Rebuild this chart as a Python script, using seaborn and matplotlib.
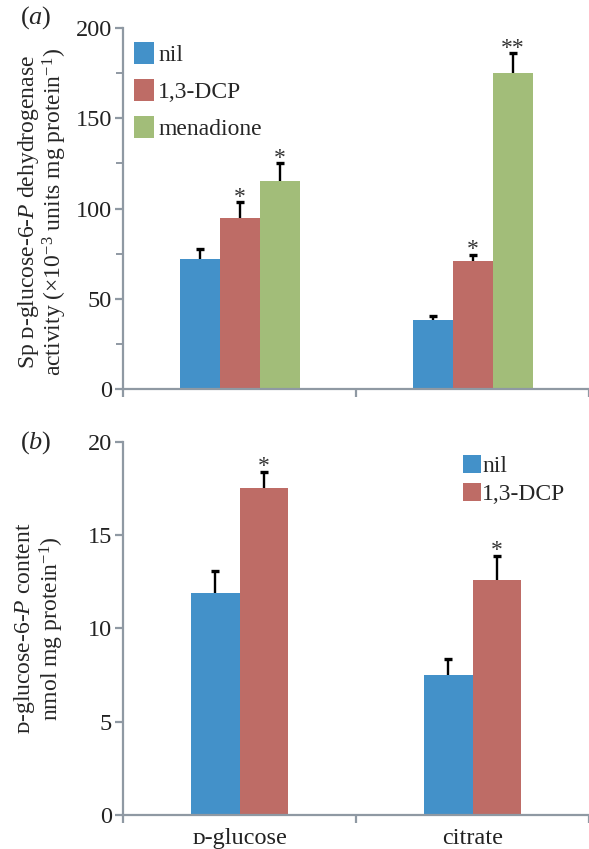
import numpy as np
import pandas as pd
import seaborn as sns
import matplotlib

matplotlib.use("Agg")
from matplotlib import pyplot as plt
from matplotlib.ticker import MultipleLocator

# panel (a): dehydrogenase activity
cats = ["D-glucose", "citrate"]
cat_labels = ["\u1d05-glucose", "citrate"]
treat_a = ["nil", "1,3-DCP", "menadione"]
act_nil = [72, 38]
act_dcp = [95, 71]
act_men = [115, 175]
act_nil_err = [5.5, 2.5]
act_dcp_err = [8.5, 3.5]
act_men_err = [10, 11]
stars_a = [["", ""], ["*", "*"], ["*", "**"]]

# panel (b): glucose-6-P content
treat_b = ["nil", "1,3-DCP"]
g6p_nil = [11.9, 7.5]
g6p_dcp = [17.5, 12.6]
g6p_nil_err = [1.2, 0.85]
g6p_dcp_err = [0.9, 1.3]
stars_b = [["", ""], ["*", "*"]]

colors = ["#4391c9", "#be6c66", "#a2bd79"]
grey = "#8f99a3"

sns.set_theme(style="ticks")
plt.rcParams["font.family"] = ["Liberation Serif", "DejaVu Serif"]
plt.rcParams["mathtext.fontset"] = "custom"
plt.rcParams["mathtext.rm"] = "Liberation Serif"
plt.rcParams["mathtext.it"] = "Liberation Serif:italic"


def panel(ax, treats, vals, errs, stars, width, ymax, major, minor, star_off):
    df = pd.DataFrame({
        "cat": np.repeat([cats], len(treats), axis=0).ravel(),
        "treat": np.repeat(treats, len(cats)),
        "val": np.ravel(vals),
    })
    sns.barplot(data=df, x="cat", y="val", hue="treat", order=cats, hue_order=treats,
                palette=colors[:len(treats)], width=width, errorbar=None,
                saturation=1, linewidth=0, ax=ax)
    for cont, v, e, s in zip(ax.containers, vals, errs, stars):
        xs = [p.get_x() + p.get_width() / 2 for p in cont.patches]
        # symmetric bars drawn behind the bars so only the upper half shows
        ax.errorbar(xs, v, yerr=e, fmt="none", ecolor="black", elinewidth=1.7,
                    capsize=3.2, capthick=2.4, zorder=0.5)
        for x, top, st in zip(xs, np.add(v, e), s):
            ax.text(x, top + star_off, st, ha="center", va="bottom", fontsize=17,
                    color="#333333")
    ax.set_xlim(-0.5, 1.5)
    ax.set_ylim(0, ymax)
    ax.yaxis.set_major_locator(MultipleLocator(major))
    if minor:
        ax.yaxis.set_minor_locator(MultipleLocator(minor))
    ax.set_xticks([-0.5, 0.5, 1.5], ["", "", ""])
    ax.set_xlabel("")
    sns.despine(ax=ax)
    for sp in ["left", "bottom"]:
        ax.spines[sp].set_color(grey)
        ax.spines[sp].set_linewidth(1.6)
    ax.tick_params(axis="both", which="major", color=grey, width=1.6, length=6,
                   labelsize=17.5, labelcolor="#222222", pad=2)
    ax.tick_params(axis="y", which="minor", color=grey, width=1.4, length=5)


fig = plt.figure(figsize=(5.89, 8.49), dpi=100)
ax1 = fig.add_axes([0.209, 0.5418, 0.791, 0.4252])
ax2 = fig.add_axes([0.209, 0.040, 0.791, 0.4397])

panel(ax1, treat_a, [act_nil, act_dcp, act_men], [act_nil_err, act_dcp_err, act_men_err],
      stars_a, 0.515, 200, 50, 25, -3.0)
panel(ax2, treat_b, [g6p_nil, g6p_dcp], [g6p_nil_err, g6p_dcp_err],
      stars_b, 0.42, 20, 5, None, -0.3)

ax2.set_xticks([0, 1], cat_labels, minor=True)
ax2.tick_params(axis="x", which="minor", length=0, labelsize=17.5, pad=9, labelcolor="#222222")

ax1.legend(loc="upper left", bbox_to_anchor=(-0.008, 1.0), frameon=False, fontsize=17,
           handlelength=0.85, handleheight=1.05, handletextpad=0.2, labelspacing=0.55,
           borderaxespad=0.2)
ax2.legend(loc="upper left", bbox_to_anchor=(0.7, 1.003), frameon=False, fontsize=17,
           handlelength=0.75, handleheight=0.8, handletextpad=0.05, labelspacing=0.25,
           borderaxespad=0.2)

ax1.set_ylabel("Sp \u1d05-glucose-6-$P$ dehydrogenase\nactivity (\u00d710$^{-3}$ units mg protein$^{-1}$)",
               fontsize=17, linespacing=1.0)
ax1.yaxis.set_label_coords(-0.116, 0.49)
ax2.set_ylabel("\u1d05-glucose-6-$P$ content\nnmol mg protein$^{-1}$)",
               fontsize=17, linespacing=1.05)
ax2.yaxis.set_label_coords(-0.123, 0.5)

fig.text(20 / 589, 1 - 18 / 849, "($a$)", fontsize=19, va="center", ha="left")
fig.text(20 / 589, 1 - 443 / 849, "($b$)", fontsize=19, va="center", ha="left")

fig.savefig("out.png", dpi=100)
